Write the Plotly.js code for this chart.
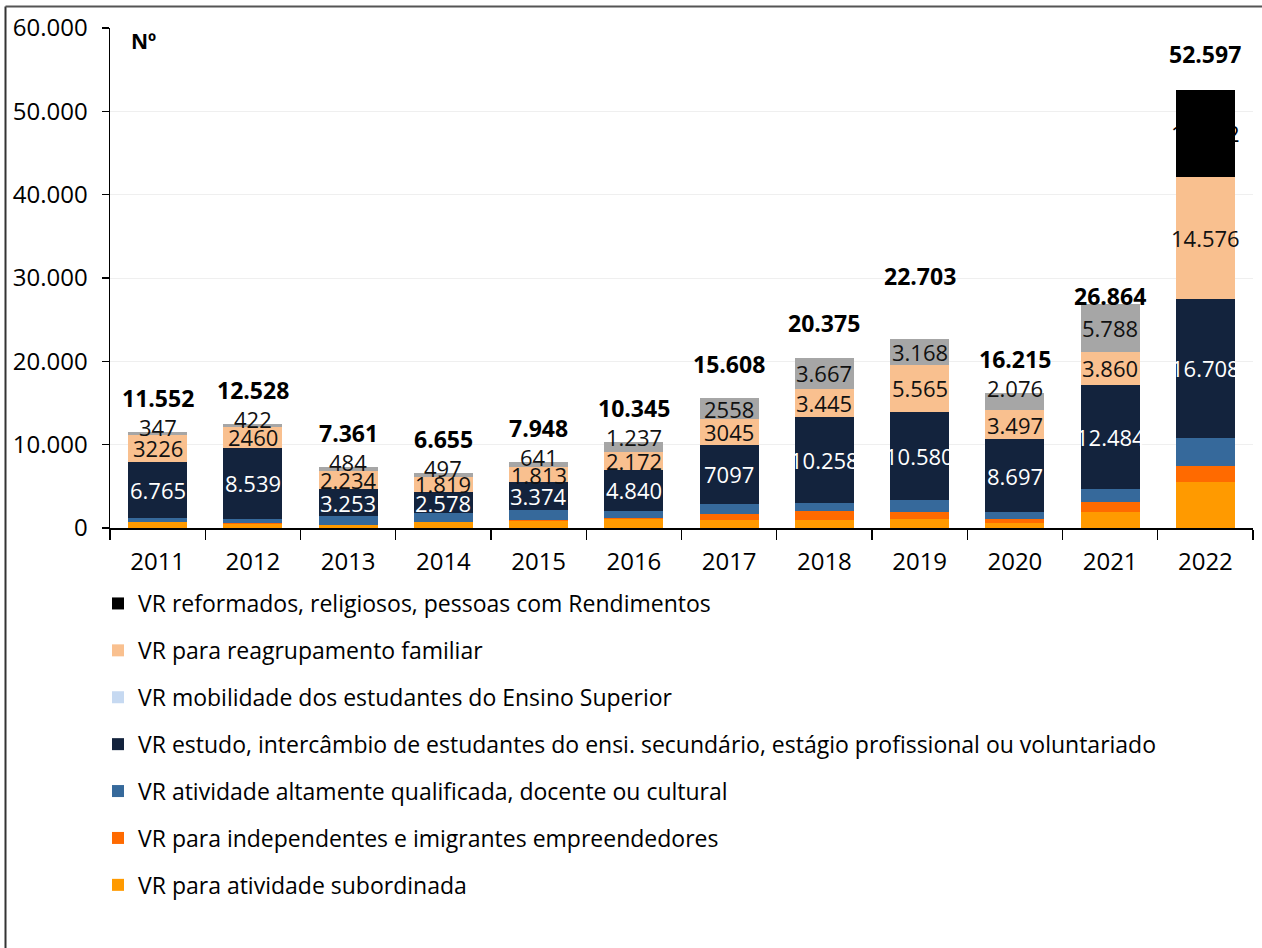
<!DOCTYPE html>
<html>
<head>
<meta charset="utf-8">
<script src="https://cdn.plot.ly/plotly-3.0.1.min.js"></script>
<style>html,body{margin:0;padding:0;background:#fff;}#chart{width:1262px;height:948px;}</style>
</head>
<body>
<div id="chart"></div>
<script>
// ---- data ----
const years = ['2011','2012','2013','2014','2015','2016','2017','2018','2019','2020','2021','2022'];
const subordinada   = [700, 500, 330, 680, 900, 1130, 950, 950, 1130, 610, 1880, 5560];
const independentes = [30, 50, 40, 60, 60, 130, 700, 1150, 800, 480, 1240, 1880];
const altamente     = [484, 557, 1020, 1021, 1160, 836, 1258, 905, 1460, 855, 1612, 3361];
const estudo        = [6765, 8539, 3253, 2578, 3374, 4840, 7097, 10258, 10580, 8697, 12484, 16708];
const mobilidade    = [null, null, null, null, null, null, null, null, null, null, null, null];
const reagrupamento = [3226, 2460, 2234, 1819, 1813, 2172, 3045, 3445, 5565, 3497, 3860, 14576];
const reformados    = [347, 422, 484, 497, 641, 1237, 2558, 3667, 3168, 2076, 5788, 10512];

const estudoText        = ['6.765','8.539','3.253','2.578','3.374','4.840','7097','10.258','10.580','8.697','12.484','16.708'];
const reagrupamentoText = ['3226','2460','2.234','1.819','1.813','2.172','3045','3.445','5.565','3.497','3.860','14.576'];
const reformadosText    = ['347','422','484','497','641','1.237','2558','3.667','3.168','2.076','5.788','10.512'];

const seriesNames = {
  reformados: 'VR reformados, religiosos, pessoas com Rendimentos',
  reagrupamento: 'VR para reagrupamento familiar',
  mobilidade: 'VR mobilidade dos estudantes do Ensino Superior',
  estudo: 'VR estudo, intercâmbio de estudantes do ensi. secundário, estágio profissional ou voluntariado',
  altamente: 'VR atividade altamente qualificada, docente ou cultural',
  independentes: 'VR para independentes e imigrantes empreendedores',
  subordinada: 'VR para atividade subordinada'
};

// ---- style ----
const FONT = '"Open Sans", Lato, sans-serif';
const colors = {
  subordinada: '#FF9A00', independentes: '#FF6A00', altamente: '#36699B',
  estudo: '#13233D', mobilidade: '#C6D9F1', reagrupamento: '#F9C08F',
  reformadosOld: '#A6A6A6', reformados: '#000000'
};
const totalLabelOffsetPx = [34,34,34,34,34,34,34,35,63,34,8,36];
const yMax = 60000, plotH = 500;

function fmt(n){ return String(n).replace(/\B(?=(\d{3})+(?!\d))/g, '.'); }

function bar(name, y, color, group, rank, extra){
  return Object.assign({
    type: 'bar', x: years, y: y, name: name, legendgroup: group, legendrank: rank,
    marker: {color: color, line: {width: 0}}, hoverinfo: 'x+y+name'
  }, extra || {});
}

const data = [
  bar(seriesNames.subordinada, subordinada, colors.subordinada, 'g1', 7),
  bar(seriesNames.independentes, independentes, colors.independentes, 'g2', 6),
  bar(seriesNames.altamente, altamente, colors.altamente, 'g3', 5),
  bar(seriesNames.estudo, estudo, colors.estudo, 'g4', 4),
  bar(seriesNames.mobilidade, mobilidade, colors.mobilidade, 'g5', 3),
  bar(seriesNames.reagrupamento, reagrupamento, colors.reagrupamento, 'g6', 2),
  bar(seriesNames.reformados, reformados,
      years.map((y, i) => i === years.length - 1 ? colors.reformados : colors.reformadosOld), 'g7', 1,
      {showlegend: false}),
  bar(seriesNames.reformados, years.map(() => null), colors.reformados, 'g7', 1)
];

// ---- labels ----
const annotations = [];
const stackOrder = [subordinada, independentes, altamente, estudo, reagrupamento, reformados];
function bottomOf(level, i){ let s = 0; for (let k = 0; k < level; k++) s += stackOrder[k][i] || 0; return s; }

years.forEach((yr, i) => {
  const b3 = bottomOf(3, i);
  annotations.push({x: i, y: b3 + estudo[i] / 2, text: estudoText[i], showarrow: false,
    font: {family: FONT, size: 22, color: '#FFFFFF'}, yanchor: 'middle'});
  const b4 = bottomOf(4, i);
  annotations.push({x: i, y: b4 + reagrupamento[i] / 2, text: reagrupamentoText[i], showarrow: false,
    font: {family: FONT, size: 22, color: '#111111'}, yanchor: 'middle'});
  const b5 = bottomOf(5, i);
  const top = b5 + reformados[i];
  const hPx = reformados[i] * plotH / yMax;
  const lblColor = i === years.length - 1 ? '#000000' : '#111111';
  if (hPx < 20) {
    annotations.push({x: i, y: top, yshift: 5, text: reformadosText[i], showarrow: false,
      font: {family: FONT, size: 22, color: lblColor}, yanchor: 'middle'});
  } else {
    annotations.push({x: i, y: b5 + reformados[i] / 2, text: reformadosText[i], showarrow: false,
      font: {family: FONT, size: 22, color: lblColor}, yanchor: 'middle'});
  }
  annotations.push({x: i, y: top, yshift: totalLabelOffsetPx[i], text: '<b>' + fmt(top) + '</b>',
    showarrow: false, font: {family: FONT, size: 23, color: '#000000'}, yanchor: 'middle'});
});

annotations.push({xref: 'paper', yref: 'paper', x: 0.017, y: 0.975, xanchor: 'left', yanchor: 'middle',
  text: '<b>Nº</b>', showarrow: false, font: {family: FONT, size: 21, color: '#000'}});

const L = 110, R = 1253, T = 28, B = 528;
const pw = R - L;
function px2x(p){ return (p - L) / pw; }
function py2y(p){ return (B - p) / (B - T); }

const layout = {
  width: 1262, height: 948,
  margin: {l: L, r: 1262 - R, t: T, b: 948 - B, pad: 0},
  paper_bgcolor: '#ffffff', plot_bgcolor: '#ffffff',
  separators: ',.',
  barmode: 'stack', bargap: 0.38,
  font: {family: FONT, size: 22, color: '#000'},
  showlegend: true,
  xaxis: {
    type: 'category', range: [-0.5, years.length - 0.5], autorange: false,
    showline: true, linecolor: '#000', linewidth: 1.5,
    ticks: 'outside', tickson: 'boundaries', ticklen: 10, tickcolor: '#000', tickwidth: 1.2,
    ticklabelstandoff: 12,
    tickfont: {family: FONT, size: 24, color: '#000'}, tickangle: 0, showgrid: false, fixedrange: true
  },
  yaxis: {
    range: [0, yMax], autorange: false, dtick: 10000, tickformat: ',d', showline: true, linecolor: '#000', linewidth: 1.5,
    ticks: 'outside', ticklen: 7, tickcolor: '#000', tickwidth: 1.2,
    ticklabelstandoff: 9,
    tickfont: {family: FONT, size: 24, color: '#000'},
    showgrid: true, gridcolor: '#EFEFEF', gridwidth: 1, zeroline: false, fixedrange: true
  },
  legend: {
    orientation: 'v', traceorder: 'grouped', tracegroupgap: 14,
    x: px2x(98), xanchor: 'left', y: py2y(582), yanchor: 'top',
    font: {family: FONT, size: 23, color: '#000'}, bgcolor: 'rgba(0,0,0,0)', itemwidth: 30
  },
  annotations: annotations,
  shapes: [
    {type: 'line', xref: 'paper', yref: 'paper', x0: px2x(5.5), x1: px2x(5.5), y0: py2y(6.5), y1: py2y(948),
      line: {color: '#333', width: 2}},
    {type: 'line', xref: 'paper', yref: 'paper', x0: px2x(5.5), x1: px2x(1262), y0: py2y(6.5), y1: py2y(6.5),
      line: {color: '#555', width: 2}}
  ]
};

Plotly.newPlot('chart', data, layout, {displayModeBar: false, staticPlot: true});
</script>
</body>
</html>
